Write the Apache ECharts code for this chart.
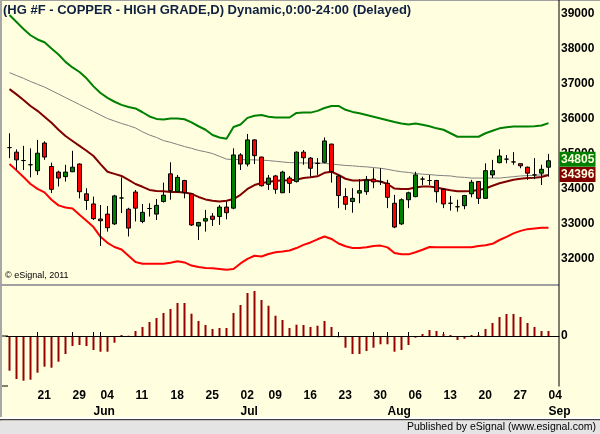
<!DOCTYPE html>
<html><head><meta charset="utf-8">
<script src="https://cdn.jsdelivr.net/npm/echarts@6/dist/echarts.min.js"></script>
<style>html,body{margin:0;padding:0;background:#FFFFE0}#c{width:600px;height:434px}</style>
</head><body><div id="c"></div>
<script>
// ---- data ----
const dates = [
'2012-05-15','2012-05-16','2012-05-17','2012-05-18','2012-05-21','2012-05-22','2012-05-23','2012-05-24','2012-05-25','2012-05-29','2012-05-30','2012-05-31',
'2012-06-01','2012-06-04','2012-06-05','2012-06-06','2012-06-07','2012-06-08','2012-06-11','2012-06-12','2012-06-13','2012-06-14','2012-06-15','2012-06-18','2012-06-19','2012-06-20','2012-06-21','2012-06-22','2012-06-25','2012-06-26','2012-06-27','2012-06-28','2012-06-29',
'2012-07-02','2012-07-03','2012-07-05','2012-07-06','2012-07-09','2012-07-10','2012-07-11','2012-07-12','2012-07-13','2012-07-16','2012-07-17','2012-07-18','2012-07-19','2012-07-20','2012-07-23','2012-07-24','2012-07-25','2012-07-26','2012-07-27','2012-07-30','2012-07-31',
'2012-08-01','2012-08-02','2012-08-03','2012-08-06','2012-08-07','2012-08-08','2012-08-09','2012-08-10','2012-08-13','2012-08-14','2012-08-15','2012-08-16','2012-08-17','2012-08-20','2012-08-21','2012-08-22','2012-08-23','2012-08-24','2012-08-27','2012-08-28','2012-08-29','2012-08-30','2012-08-31',
'2012-09-04'];
const opens = [35180,35050,34810,34690,34520,35310,34640,34480,34350,34490, 34710,33860,33570,33140,33280,33000,33740,33420,33910,33070, 33440,33280,33640,34430,33920,34240,33860,32940,33080,33220, 33210,33480,33450,34970,34710,35400,34910,34130,34370,33890, 34310,34210,35050,34880,34730,34760,35280,34370,33780,33640, 33880,33920,34280,34210,34160,33590,33000,33690,33780,34280, 34240,34240,33990,33590,33490,33520,33860,34210,33730,34400, 34750,34850,34770,34720,34620,34400,34450,34620];
const closes = [35180,34830,34810,34690,35020,34910,33990,34310,34480,34620, 33920,33670,33150,33090,32890,33800,33740,32880,33450,33330, 33440,33530,33820,33950,34330,33890,32970,33040,33150,33130, 33480,33320,34970,34710,35400,34950,34090,34310,33990,34480, 34160,35050,34890,34590,34730,35370,34490,33810,33560,33730, 33950,34250,34200,34210,33760,32910,33690,33890,34400,34280, 34240,33920,33570,33590,33490,33810,34190,33730,34520,34520, 34940,34850,34770,34660,34450,34400,34560,34805];
const lows = [34880,34540,34540,34330,34400,34830,33880,34070,34210,34480, 33730,33400,33110,32370,32780,32970,33310,32640,33070,33020, 33210,33110,33610,33690,33890,33730,32940,32540,32780,32940, 32970,33130,33420,34540,34640,34710,34070,33970,33860,33880, 33880,34180,34690,34350,34400,34730,34180,33450,33400,33320, 33590,33830,34020,34110,33450,32880,32970,33450,33760,34110, 34110,33610,33450,33380,33350,33420,33760,33570,33720,34310, 34730,34730,34690,34590,34260,34280,34110,34350];
const highs = [35590,35130,35230,35160,35400,35360,34750,34520,34690,35090, 34730,34020,33780,33540,33510,33830,34330,33460,33970,33570, 33590,33710,34180,34760,34400,34260,33880,33060,33400,33310, 33540,33640,35160,35020,35570,35420,34920,34400,34400,34520, 34370,35070,35110,34910,34880,35470,35290,34400,34020,34020, 34280,34370,34590,34590,34260,33830,33730,33920,34490,34350, 34400,34260,34020,33800,33690,33830,34260,34220,34730,34830, 35130,34970,35050,34720,34640,34880,34690,35000];
const maShort = [36850,36700,36540,36370,36230,36060,35890,35690,35510,35370, 35230,35090,34940,34710,34490,34430,34370,34260,34140,34060, 33970,33940,33930,33910,33910,33900,33860,33770,33700,33660, 33640,33660,33710,33830,34000,34110,34170,34200,34230,34240, 34250,34260,34310,34330,34360,34460,34490,34400,34290,34240, 34240,34260,34240,34210,34140,34010,34000,34000,34040,34070, 34070,34040,34000,33960,33930,33930,33940,33970,34010,34090, 34160,34210,34260,34290,34310,34320,34340,34396];
const bandUpper = [38970,38770,38570,38390,38270,38190,38010,37840,37630,37470, 37340,37160,36930,36740,36600,36490,36400,36340,36300,36190, 36070,36000,35980,36010,36010,35990,35900,35790,35690,35540, 35470,35430,35770,35840,36030,36090,36110,36060,36040,36040, 36040,36170,36180,36180,36230,36310,36370,36370,36260,36200, 36160,36110,36060,36010,35960,35910,35870,35840,35870,35830, 35790,35730,35690,35590,35490,35490,35490,35490,35590,35660, 35730,35760,35780,35780,35780,35790,35810,35880];
const bandLower = [34710,34530,34340,34140,34000,33900,33690,33530,33470,33440, 33260,33090,32910,32630,32460,32340,32270,32090,31910,31860, 31860,31860,31860,31890,31930,31900,31810,31770,31740,31730, 31710,31690,31710,31870,32000,32090,32070,32140,32190,32210, 32240,32310,32400,32470,32560,32640,32570,32440,32360,32310, 32310,32330,32370,32380,32330,32170,32130,32130,32190,32260, 32340,32330,32330,32330,32330,32330,32330,32370,32390,32430, 32540,32630,32730,32800,32850,32870,32890,32890];
const maLong = [37320,37240,37160,37070,36990,36910,36810,36710,36610,36510, 36410,36310,36210,36110,36010,35940,35870,35810,35740,35630, 35540,35470,35380,35330,35270,35210,35160,35100,35060,35010, 34930,34850,34840,34840,34830,34830,34820,34810,34790,34770, 34750,34750,34740,34740,34740,34730,34710,34690,34670,34660, 34640,34630,34610,34590,34560,34520,34490,34470,34440,34420, 34410,34390,34380,34370,34340,34330,34310,34310,34310,34310, 34310,34330,34350,34370,34380,34390,34400,34400];
const osc = [-34.7,-43,-44.7,-43.7,-36.7,-30.7,-31.7,-25.7,-18,-10, -9,-10,-14,-15.7,-15.7,-6.7,1,0.3,5,9, 14,18,23,27,33,33,22.3,15,11,7, 8,8,23,31,43,45,36,30.3,20.3,16, 8,11.3,11,9,10.3,15,9,-1.3,-11.7,-18, -18,-15,-11.7,-8.3,-8.3,-15.7,-14,-9,-1.7,2, 6,5,2,1,-4,-2.7,1,1,7,13, 19,22,22,19,13,9,5,5];
const priceTicks = [32000,33000,34000,35000,36000,37000,38000,39000];
const monthNames = ['Jan','Feb','Mar','Apr','May','Jun','Jul','Aug','Sep','Oct','Nov','Dec'];
const lastPrice = 34805, lastMa = 34396;

// ---- derived ----
const N = dates.length;
const cats = dates.concat(['']);
const dd = dates.map(s => new Date(s + 'T00:00:00Z'));
const weekStart = dd.map((d, i) => i > 0 && d.getUTCDay() <= dd[i-1].getUTCDay());
const monthStart = dd.map((d, i) => i > 0 && d.getUTCMonth() !== dd[i-1].getUTCMonth());
const showTick = i => i < N && (weekStart[i] || monthStart[i]);
const candles = opens.map((o, i) => [o, closes[i], lows[i], highs[i]]);

const FONT = 'Liberation Sans, Arial, sans-serif';
const chart = echarts.init(document.getElementById('c'));
const L = 6, R = 41;
chart.setOption({
  animation: false,
  backgroundColor: '#FFFFE0',
  grid: [
    {left: L, right: R, top: 2, height: 281.4, outerBoundsMode: 'none', containLabel: false},
    {left: L, right: R, top: 286, height: 100, outerBoundsMode: 'none', containLabel: false}
  ],
  xAxis: [
    {type: 'category', gridIndex: 0, data: cats, boundaryGap: true,
     axisLine: {show: false}, axisTick: {show: false}, axisLabel: {show: false}, splitLine: {show: false}},
    {type: 'category', gridIndex: 1, data: cats, boundaryGap: true,
     axisLine: {show: true, lineStyle: {color: '#000', width: 1}},
     axisTick: {show: true, inside: true, length: 4, alignWithLabel: true, interval: (i) => showTick(i), lineStyle: {color: '#000'}},
     axisLabel: {show: true, interval: (i) => showTick(i), align: 'left', margin: 2,
       fontFamily: FONT, fontWeight: 'bold', fontSize: 12, color: '#000', lineHeight: 16,
       formatter: (v, i) => {
         if (i >= N) return '';
         const d = dd[i];
         const day = weekStart[i] ? String(d.getUTCDate()).padStart(2, '0') : '';
         const mon = monthStart[i] ? monthNames[d.getUTCMonth()] : '';
         return day + '\n' + mon;
       }},
     splitLine: {show: false}}
  ],
  yAxis: [
    {type: 'value', gridIndex: 0, position: 'right', min: 31300, max: 39340, scale: true,
     axisLine: {show: false}, axisTick: {show: false}, splitLine: {show: false},
     axisLabel: {show: true, customValues: priceTicks, margin: 2, align: 'left', formatter: v => String(Math.round(v)),
       fontFamily: FONT, fontWeight: 'bold', fontSize: 12, color: '#000'}},
    {type: 'value', gridIndex: 1, position: 'right', min: -50, max: 50,
     axisLine: {show: false}, axisTick: {show: false}, splitLine: {show: false},
     axisLabel: {show: true, customValues: [0], margin: 2, align: 'left', formatter: v => String(Math.round(v)),
       fontFamily: FONT, fontWeight: 'bold', fontSize: 12, color: '#000'}}
  ],
  series: [
    {name: 'Upper', type: 'line', xAxisIndex: 0, yAxisIndex: 0, data: bandUpper, symbol: 'none',
     lineStyle: {color: '#008000', width: 2}, z: 2},
    {name: 'Lower', type: 'line', xAxisIndex: 0, yAxisIndex: 0, data: bandLower, symbol: 'none',
     lineStyle: {color: '#FF0000', width: 2}, z: 2},
    {name: 'MA long', type: 'line', xAxisIndex: 0, yAxisIndex: 0, data: maLong, symbol: 'none',
     lineStyle: {color: '#808080', width: 1}, z: 2},
    {name: 'MA short', type: 'line', xAxisIndex: 0, yAxisIndex: 0, data: maShort, symbol: 'none',
     lineStyle: {color: '#800000', width: 2}, z: 3},
    {name: 'HG', type: 'candlestick', xAxisIndex: 0, yAxisIndex: 0, data: candles, barWidth: 5, z: 5,
     itemStyle: {color: '#008000', color0: '#FF0000', borderColor: '#000', borderColor0: '#000', borderColorDoji: '#000', borderWidth: 1}},
    {name: 'Osc', type: 'bar', xAxisIndex: 1, yAxisIndex: 1, data: osc, barWidth: 2,
     itemStyle: {color: '#990000'},
     markLine: {silent: true, symbol: 'none', label: {show: false}, lineStyle: {color: '#000', width: 1, type: 'solid'},
       data: [{yAxis: 0}]}}
  ]
});

const yP = chart.convertToPixel({yAxisIndex: 0}, lastPrice);
const yM = chart.convertToPixel({yAxisIndex: 0}, lastMa);
chart.setOption({
  graphic: [
    {type: 'rect', shape: {x: 0, y: 0, width: 600, height: 1}, style: {fill: '#A0A0A0'}, silent: true},
    {type: 'rect', shape: {x: 0, y: 0, width: 2, height: 434}, style: {fill: '#A8A8A8'}, silent: true},
    {type: 'rect', shape: {x: 0, y: 284, width: 559, height: 2}, style: {fill: '#A0A0A0'}, silent: true},
    {type: 'rect', shape: {x: 558.5, y: 0, width: 1, height: 386.5}, style: {fill: '#000'}, silent: true, z: 20},
    {type: 'rect', shape: {x: 2, y: 385.5, width: 6, height: 1}, style: {fill: '#000'}, silent: true},
    {type: 'rect', shape: {x: 2, y: 335.5, width: 6, height: 1}, style: {fill: '#000'}, silent: true},
    {type: 'rect', shape: {x: 0, y: 417, width: 600, height: 2}, style: {fill: '#FFFFFF'}, silent: true},
    {type: 'rect', shape: {x: 0, y: 419, width: 600, height: 1.5}, style: {fill: '#404040'}, silent: true},
    {type: 'rect', shape: {x: 0, y: 420.5, width: 600, height: 14}, style: {fill: '#E4E4E4'}, silent: true},
    {type: 'text', x: 596, y: 427, style: {text: 'Published by eSignal (www.esignal.com)', fontFamily: FONT, fontSize: 10.5,
      fill: '#000', align: 'right', verticalAlign: 'middle'}, silent: true},
    {type: 'text', x: 3, y: 10, style: {text: '(HG #F - COPPER - HIGH GRADE,D) Dynamic,0:00-24:00 (Delayed)', fontFamily: FONT,
      fontSize: 13, fontWeight: 'bold', fill: '#102040', align: 'left', verticalAlign: 'middle'}, silent: true, z: 30},
    {type: 'text', x: 5, y: 276, style: {text: '\u00A9 eSignal, 2011', fontFamily: FONT, fontSize: 9,
      fill: '#000', align: 'left', verticalAlign: 'middle'}, silent: true, z: 30},
    {type: 'rect', shape: {x: 559.5, y: yM - 8, width: 36, height: 15}, style: {fill: '#800000'}, silent: true, z: 30},
    {type: 'text', x: 561, y: yM - 0.5, style: {text: String(lastMa), fontFamily: FONT, fontSize: 12, fontWeight: 'bold',
      fill: '#FFFFE0', align: 'left', verticalAlign: 'middle'}, silent: true, z: 31},
    {type: 'rect', shape: {x: 559.5, y: yP - 9, width: 36, height: 15}, style: {fill: '#008000'}, silent: true, z: 32},
    {type: 'text', x: 561, y: yP - 1.5, style: {text: String(lastPrice), fontFamily: FONT, fontSize: 12, fontWeight: 'bold',
      fill: '#FFFFE0', align: 'left', verticalAlign: 'middle'}, silent: true, z: 33}
  ]
});
</script></body></html>
